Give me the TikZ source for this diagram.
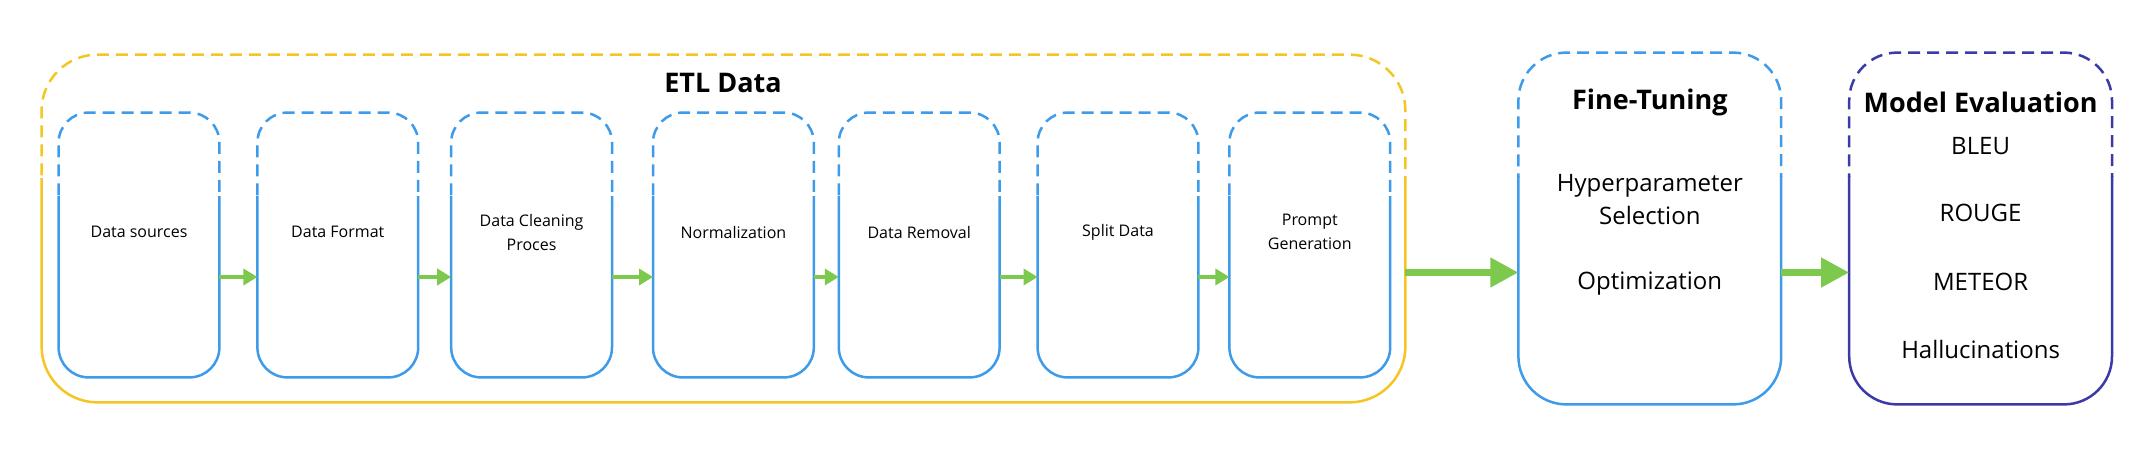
\documentclass[tikz,border=0pt]{standalone}
\usepackage{fontspec}
\setmainfont{Open Sans}
\usepackage{tikz}
\usetikzlibrary{positioning, arrows.meta, calc}

\definecolor{etlyellow}{HTML}{F5C623}
\definecolor{stepblue}{HTML}{3D9BE9}
\definecolor{evalblue}{HTML}{3B3BA8}
\definecolor{flowgreen}{HTML}{7DC94E}

\tikzset{
  stagebox/.style={inner sep=0pt, minimum width=80pt, minimum height=132pt},
  bigbox/.style={inner sep=0pt, minimum width=131pt, minimum height=175.5pt},
  steptext/.style={font=\fontsize{8}{12}\selectfont, align=center},
  itemtext/.style={font=\fontsize{12}{16.5}\selectfont, align=center},
  titletext/.style={font=\fontsize{13.5}{16}\selectfont\bfseries},
  frameline/.style={line width=1.25pt},
  smallflow/.style={-{Triangle[length=7pt,width=8pt]}, line width=2.3pt, flowgreen},
  bigflow/.style={-{Triangle[length=14pt,width=14pt]}, line width=3.8pt, flowgreen},
}

% frame of a box: dashed on top, solid below
\newcommand{\halfframe}[4]{%
  \begin{scope}
    \clip ([shift={(-5pt,5pt)}]#1.north west) rectangle ([shift={(5pt,-#4)}]#1.north east);
    \draw[#2, frameline, dash pattern=on 6pt off 3.5pt, rounded corners=#3] (#1.south west) rectangle (#1.north east);
  \end{scope}
  \begin{scope}
    \clip ([shift={(-5pt,-#4)}]#1.north west) rectangle ([shift={(5pt,-5pt)}]#1.south east);
    \draw[#2, frameline, rounded corners=#3] (#1.south west) rectangle (#1.north east);
  \end{scope}
}

\begin{document}
\begin{tikzpicture}[x=0.5pt, y=-0.5pt]

\path[fill=white, use as bounding box] (0,0) rectangle (2149,465);

% ETL group
\node[bigbox, minimum width=681.5pt, minimum height=173.5pt] (etl) at (723.5,228.5) {};
\node[titletext] (etltitle) at (723,83) {ETL Data};

\node[stagebox, label={[steptext, yshift=6.5pt]center:Data sources}] (src) at (139,245) {};
\node[stagebox, right=19pt of src, label={[steptext, yshift=6.5pt]center:Data Format}] (fmt) {};
\node[stagebox, right=16.5pt of fmt, label={[steptext, yshift=6.5pt]center:{Data Cleaning\\Proces}}] (clean) {};
\node[stagebox, right=20.5pt of clean, label={[steptext, yshift=6.5pt]center:Normalization}] (norm) {};
\node[stagebox, right=12.5pt of norm, label={[steptext, yshift=6.5pt]center:Data Removal}] (removal) {};
\node[stagebox, right=19pt of removal, label={[steptext, yshift=6.5pt]center:Split Data}] (split) {};
\node[stagebox, right=15.5pt of split, label={[steptext, yshift=6.5pt]center:{Prompt\\Generation}}] (prompt) {};

% fine-tuning
\node[bigbox, right=56.5pt of etl] (ft) {};
\node[titletext] (fttitle) at ([yshift=-25pt]ft.north) {Fine-Tuning};
\node[itemtext] (hyper) at ([yshift=-73.25pt]ft.north) {Hyperparameter\\Selection};
\node[itemtext] (optim) at ([yshift=-115.5pt]ft.north) {Optimization};

% evaluation
\node[bigbox, right=34pt of ft] (eval) {};
\node[titletext] (evaltitle) at ([yshift=-25pt]eval.north) {Model Evaluation};
\node[itemtext] (bleu) at ([yshift=-46.5pt]eval.north) {BLEU};
\node[itemtext] (rouge) at ([yshift=-80pt]eval.north) {ROUGE};
\node[itemtext] (meteor) at ([yshift=-114.5pt]eval.north) {METEOR};
\node[itemtext] (halluc) at ([yshift=-148.5pt]eval.north) {Hallucinations};

% frames
\halfframe{etl}{etlyellow}{28pt}{62pt}
\foreach \n in {src,fmt,clean,norm,removal,split,prompt}{
  \halfframe{\n}{stepblue}{15pt}{42pt}
}
\halfframe{ft}{stepblue}{24pt}{62pt}
\halfframe{eval}{evalblue}{24pt}{62pt}

% flow
\foreach \a/\b in {src/fmt,fmt/clean,clean/norm,norm/removal,removal/split,split/prompt}
  \draw[smallflow] ([yshift=-16pt]\a.east) -- ([yshift=-16pt]\b.west);
\draw[bigflow] ([yshift=-22pt]etl.east) -- ([yshift=-22pt]ft.west);
\draw[bigflow] ([yshift=-22pt]ft.east) -- ([yshift=-22pt]eval.west);

\end{tikzpicture}
\end{document}
